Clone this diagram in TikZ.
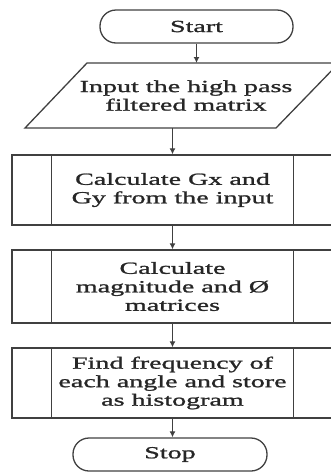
\documentclass[tikz,border=0pt]{standalone}
\usepackage{fontspec}
\setmainfont{Liberation Serif}[FakeStretch=1.65,FakeBold=1.3]
\usetikzlibrary{arrows.meta}
\begin{document}
\begin{tikzpicture}[x=1pt,y=1pt,
  ln/.style={draw=black!75, line width=1.3pt},
  txt/.style={align=center, text=black!85, font=\fontsize{17}{18.5}\selectfont, inner sep=0pt},
  term/.style={ln, txt, rounded corners=16pt, minimum width=193pt, minimum height=33pt},
  proc/.style={ln, txt, minimum width=321pt},
  arr/.style={ln, -{Latex[length=6pt,width=6pt]}}]
\useasboundingbox (0,0) rectangle (330,-472);
% terminals
\node[term] (start) at (196.5,-26.5) {Start};
% input parallelogram
\coordinate (pTL) at (87,-63);
\coordinate (pTR) at (339,-63);
\coordinate (pBR) at (276,-128);
\coordinate (pBL) at (25,-128);
\draw[ln] (pTL) -- (pTR) -- (pBR) -- (pBL) -- cycle;
\node[txt] (inp) at (186,-95.5) {Input the high pass\\filtered matrix};
% processes
\node[proc, minimum height=70pt] (b1) at (172.5,-190) {Calculate Gx and\\Gy from the input};
\node[proc, minimum height=73pt] (b2) at (172.5,-286.5) {Calculate\\magnitude and Ø\\matrices};
\node[proc, minimum height=70pt] (b3) at (172.5,-383) {Find frequency of\\each angle and store\\as histogram};
\foreach \b in {b1,b2,b3}{
  \draw[ln] ([xshift=40pt]\b.north west) -- ([xshift=40pt]\b.south west);
  \draw[ln] ([xshift=-40pt]\b.north east) -- ([xshift=-40pt]\b.south east);
}
\node[term, minimum width=194pt] (stop) at (170,-454.5) {Stop};
% connectors
\draw[arr] (start.south) -- (start.south |- pTL);
\draw[arr] (b1.north |- pBL) -- (b1.north);
\draw[arr] (b1.south) -- (b2.north);
\draw[arr] (b2.south) -- (b3.north);
\draw[arr] (b3.south) -- (b3.south |- stop.north);
\end{tikzpicture}
\end{document}
